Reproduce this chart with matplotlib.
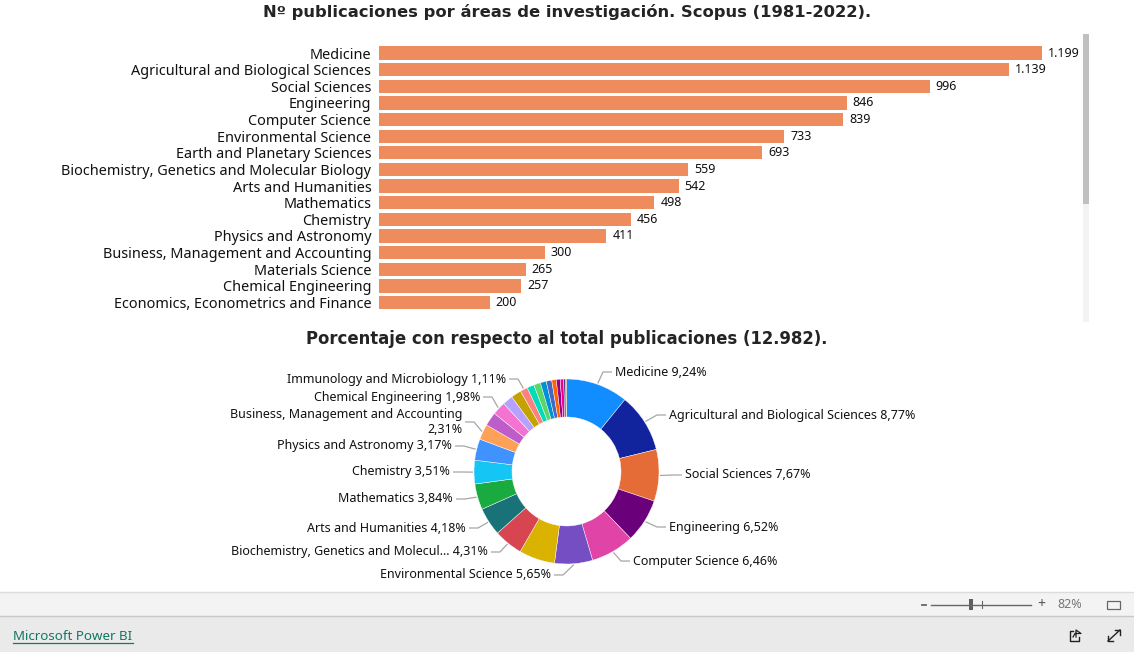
import numpy as np
import matplotlib
matplotlib.use("Agg")
import matplotlib.pyplot as plt
from matplotlib.patches import Rectangle

plt.rcParams['font.family'] = ['Noto Sans', 'DejaVu Sans']

W, H = 1134, 652

# bar chart data
areas = ["Medicine", "Agricultural and Biological Sciences", "Social Sciences", "Engineering",
         "Computer Science", "Environmental Science", "Earth and Planetary Sciences",
         "Biochemistry, Genetics and Molecular Biology", "Arts and Humanities", "Mathematics",
         "Chemistry", "Physics and Astronomy", "Business, Management and Accounting",
         "Materials Science", "Chemical Engineering", "Economics, Econometrics and Finance"]
counts = [1199, 1139, 996, 846, 839, 733, 693, 559, 542, 498, 456, 411, 300, 265, 257, 200]

# donut: same areas first, then the rest of the slices (no labels, estimated)
rest_counts = [198, 144, 136, 130, 115, 106, 88, 75, 66, 40, 14]
slice_colors = ["#118DFF", "#12239E", "#E66C37", "#6B007B", "#E044A7", "#744EC2", "#D9B300",
                "#D64550", "#197278", "#1AAB40", "#15C6F4", "#4092FF", "#FFA058", "#BE5DC9",
                "#F472D0", "#B5A1FF", "#C4A200", "#FF8080", "#00DBBC", "#5BD667", "#0091D5",
                "#4668C5", "#FF6300", "#99008A", "#EC008C", "#533285", "#99700A"]

# slice index, text lines
pie_labels = [(0, "Medicine 9,24%"), (1, "Agricultural and Biological Sciences 8,77%"),
              (2, "Social Sciences 7,67%"), (3, "Engineering 6,52%"),
              (4, "Computer Science 6,46%"), (5, "Environmental Science 5,65%"),
              (7, "Biochemistry, Genetics and Molecul... 4,31%"), (8, "Arts and Humanities 4,18%"),
              (9, "Mathematics 3,84%"), (10, "Chemistry 3,51%"), (11, "Physics and Astronomy 3,17%"),
              (12, "Business, Management and Accounting\n2,31%"), (14, "Chemical Engineering 1,98%"),
              (17, "Immunology and Microbiology 1,11%")]
# where each label text ends, pixels (x, y, side)
label_pos = [(615, 372, "l"), (669, 415, "l"), (685, 475, "l"), (669, 527, "l"), (633, 561, "l"),
             (551, 575, "r"), (488, 552, "r"), (466, 528, "r"), (453, 499, "r"), (450, 472, "r"),
             (452, 446, "r"), (462, 422, "r"), (480, 397, "r"), (506, 379, "r")]


def px_axes(fig, x0, y0, x1, y1, **kw):
    return fig.add_axes([x0 / W, 1 - y1 / H, (x1 - x0) / W, (y1 - y0) / H], **kw)


fig = plt.figure(figsize=(W / 100, H / 100), dpi=100, facecolor="white")

# overlay in pixel coordinates for the titles and the report chrome
bg = px_axes(fig, 0, 0, W, H, zorder=0)
bg.set_xlim(0, W)
bg.set_ylim(H, 0)
bg.axis("off")
over = px_axes(fig, 0, 0, W, H, zorder=5)
over.set_xlim(0, W)
over.set_ylim(H, 0)
over.axis("off")
over.patch.set_alpha(0)

bg.text(567, 12, "Nº publicaciones por áreas de investigación. Scopus (1981-2022).",
        fontsize=11.8, fontweight="bold", family="DejaVu Sans", color="#252423", ha="center", va="center")
bg.text(567, 339, "Porcentaje con respecto al total publicaciones (12.982).",
        fontsize=11.9, fontweight="bold", family="DejaVu Sans", color="#252423", ha="center", va="center")

# scrollbar
bg.add_patch(Rectangle((1083, 34), 6, 288, color="#f3f3f3", lw=0))
bg.add_patch(Rectangle((1083, 34), 6, 170, color="#c0c0c0", lw=0))

# bars
ax = px_axes(fig, 379, 44.7, 1042, 310.8, zorder=2)
ypos = np.arange(len(areas))
ax.barh(ypos, counts, height=0.8, color="#EE8C5E")
ax.set_xlim(0, 1199)
ax.set_ylim(len(areas) - 0.5, -0.5)
ax.set_yticks(ypos)
ax.set_yticklabels(areas, fontsize=10.4, color="#111111")
ax.set_xticks([])
ax.tick_params(axis="y", length=0, pad=5.5)
for s in ax.spines.values():
    s.set_visible(False)
ax.patch.set_alpha(0)
for y, v in zip(ypos, counts):
    lab = f"{v:,}".replace(",", ".")
    ax.annotate(lab, (v, y), xytext=(6, 0), textcoords="offset pixels", va="center",
                fontsize=9, color="#111111", annotation_clip=False)

# donut
cx, cy, R = 566.5, 471.5, 92.5
ax2 = px_axes(fig, cx - R, cy - R, cx + R, cy + R, zorder=2)
all_counts = counts + rest_counts
wedges, _ = ax2.pie(all_counts, colors=slice_colors, startangle=90, counterclock=False, radius=1,
                    wedgeprops=dict(width=1 - 54.5 / R, edgecolor="white", linewidth=0.3))
ax2.set_xlim(-1, 1)
ax2.set_ylim(-1, 1)

for (idx, txt), (tx, ty, side) in zip(pie_labels, label_pos):
    w = wedges[idx]
    mid = np.radians((w.theta1 + w.theta2) / 2)
    sx = cx + (R + 1) * np.cos(mid)
    sy = cy - (R + 1) * np.sin(mid)
    if side == "l":
        ex = tx - 3
        elbow = tx - 12
        ha = "left"
    else:
        ex = tx + 3
        elbow = tx + 12
        ha = "right"
    over.plot([ex, elbow, sx], [ty, ty, sy], color="#a6a6a6", lw=0.9, solid_capstyle="butt")
    over.text(tx, ty, txt, fontsize=9, color="#111111", ha=ha, va="center", multialignment="right",
              linespacing=1.2)

# bottom bars
bg.add_patch(Rectangle((0, 592), W, 24, color="#f3f3f3", lw=0))
bg.add_patch(Rectangle((0, 616), W, 36, color="#eaeaea", lw=0))
bg.plot([0, W], [592, 592], color="#dcdcdc", lw=1)
bg.plot([0, W], [615.5, 615.5], color="#c8c8c8", lw=1)

bg.text(13, 636, "Microsoft Power BI", fontsize=9.6, color="#117865", va="center")
bg.plot([13, 133], [642.5, 642.5], color="#117865", lw=0.9)

# zoom slider
bg.plot([922, 926], [604.5, 604.5], color="#666666", lw=1.3)
bg.plot([931, 1031], [604.5, 604.5], color="#666666", lw=1)
bg.add_patch(Rectangle((969, 599), 4, 11, color="#605e5c", lw=0))
bg.plot([981.5, 981.5], [601, 608], color="#666666", lw=0.8)
bg.text(1041, 604, "+", fontsize=10, color="#555555", ha="center", va="center")
bg.text(1070, 604.5, "82%", fontsize=9, color="#777777", ha="center", va="center")
bg.add_patch(Rectangle((1106.5, 600.5), 13, 8, fill=False, ec="#666666", lw=0.9))

# share and expand icons
bg.plot([1073, 1069.5, 1069.5, 1079, 1079], [631, 631, 640.5, 640.5, 637], color="#222222", lw=1)
bg.plot([1073, 1075, 1081, 1076, 1076], [637, 633.5, 633.5, 630, 637], color="#222222", lw=0.9)
bg.plot([1108, 1120], [641, 630], color="#222222", lw=1)
bg.plot([1108, 1108, 1113], [636, 641, 641], color="#222222", lw=1)
bg.plot([1115, 1120, 1120], [630, 630, 635], color="#222222", lw=1)

fig.savefig("out.png", dpi=100, facecolor="white")
